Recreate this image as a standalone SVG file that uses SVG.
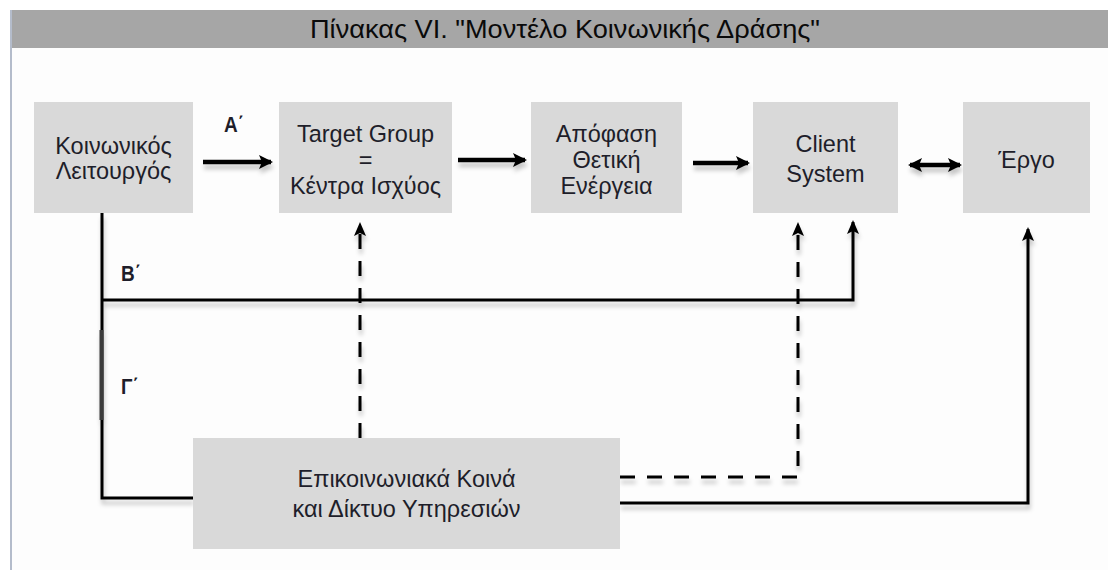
<svg xmlns="http://www.w3.org/2000/svg" width="1108" height="570" viewBox="0 0 1108 570">
<style>
.box{fill:#d9d9d9}
.t{font-family:"Liberation Sans",Arial,sans-serif;font-size:23.5px;fill:#1e1e2a;text-anchor:middle}
.lbl{font-family:"Liberation Sans",Arial,sans-serif;font-size:19px;font-weight:bold;fill:#1e1e2a}
.thick{stroke:#000;stroke-width:4.5;fill:none}
.thin{stroke:#000;stroke-width:3;fill:none}
.dash{stroke:#000;stroke-width:3;fill:none;stroke-dasharray:15 12}
</style>
<defs>
<filter id="sh" x="-10%" y="-10%" width="120%" height="130%">
<feDropShadow dx="1" dy="5" stdDeviation="2" flood-color="#000" flood-opacity="0.22"/>
</filter>
<marker id="ah" viewBox="0 0 14 14" refX="12" refY="7" markerWidth="14" markerHeight="14" markerUnits="userSpaceOnUse" orient="auto-start-reverse">
<path d="M0,0 L14,7 L0,14 L3,7 z" fill="#000"/>
</marker>
<marker id="as" viewBox="0 0 14 12" refX="12" refY="6" markerWidth="14" markerHeight="12" markerUnits="userSpaceOnUse" orient="auto">
<path d="M0,0 L14,6 L0,12 L3,6 z" fill="#000"/>
</marker>
</defs>
<rect x="0" y="0" width="1108" height="570" fill="#fff"/>
<rect x="11" y="48" width="1097" height="522" fill="#fdfdfd"/>
<rect x="11" y="10" width="1097" height="38" fill="#a6a6a6"/>
<line x1="11" y1="10" x2="11" y2="570" stroke="#b4bccb" stroke-width="2"/>
<text transform="translate(565,38) scale(1,1.2)" x="0" y="0" font-family="'Liberation Sans Narrow','Liberation Sans',Arial,sans-serif" font-size="21" fill="#0a0a0a" text-anchor="middle" textLength="510" lengthAdjust="spacingAndGlyphs">Πίνακας VI. "Μοντέλο Κοινωνικής Δράσης"</text>

<g id="connectors" filter="url(#sh)">
<line class="thick" x1="203" y1="162" x2="271" y2="162" marker-end="url(#ah)"/>
<line class="thick" x1="458" y1="160" x2="525" y2="160" marker-end="url(#ah)"/>
<line class="thick" x1="693" y1="163" x2="748" y2="163" marker-end="url(#ah)"/>
<line class="thick" x1="910" y1="165" x2="960" y2="165" marker-start="url(#ah)" marker-end="url(#ah)"/>
<path class="thin" d="M102,213 V498 H193"/>
<line x1="101.5" y1="330" x2="101.5" y2="420" stroke="#3a3a3a" stroke-width="4"/>
<path class="thin" d="M102,300 H853 V222" marker-end="url(#as)"/>
<path class="dash" d="M360,438 V224" marker-end="url(#as)"/>
<path class="dash" d="M620,477 H798 V224" marker-end="url(#as)"/>
<path class="thin" d="M620,503 H1028 V229" marker-end="url(#as)"/>
</g>

<g id="n1"><rect class="box" x="34" y="102" width="159" height="111"/>
<text class="t" transform="translate(113.5,154) scale(1,1.05)"><tspan x="0" y="0">Κοινωνικός</tspan><tspan x="0" y="24">Λειτουργός</tspan></text></g>
<g id="n2"><rect class="box" x="279" y="102" width="173" height="111"/>
<text class="t" transform="translate(365.5,142) scale(1,1.05)"><tspan x="0" y="0">Target Group</tspan><tspan x="0" y="24.8">=</tspan><tspan x="0" y="49.6">Κέντρα Ισχύος</tspan></text></g>
<g id="n3"><rect class="box" x="531" y="102" width="151" height="111"/>
<text class="t" transform="translate(606.5,142) scale(1,1.05)"><tspan x="0" y="0">Απόφαση</tspan><tspan x="0" y="24.8">Θετική</tspan><tspan x="0" y="49.6">Ενέργεια</tspan></text></g>
<g id="n4"><rect class="box" x="753" y="102" width="145" height="111"/>
<text class="t" transform="translate(825.5,152) scale(1,1.05)"><tspan x="0" y="0">Client</tspan><tspan x="0" y="28.6">System</tspan></text></g>
<g id="n5"><rect class="box" x="963" y="102" width="127" height="111"/>
<text class="t" transform="translate(1026.5,168) scale(1,1.05)">Έργο</text></g>
<g id="n6"><rect class="box" x="193" y="438" width="427" height="111"/>
<text class="t" transform="translate(406.5,487) scale(1,1.05)"><tspan x="0" y="0">Επικοινωνιακά Κοινά</tspan><tspan x="0" y="28.6">και Δίκτυο Υπηρεσιών</tspan></text></g>

<g id="labels">
<text class="lbl" transform="translate(224,132) scale(1,1.15)">Α΄</text>
<text class="lbl" transform="translate(121,281) scale(1,1.15)">Β΄</text>
<text class="lbl" transform="translate(121,394) scale(1,1.15)">Γ΄</text>
</g>
</svg>
